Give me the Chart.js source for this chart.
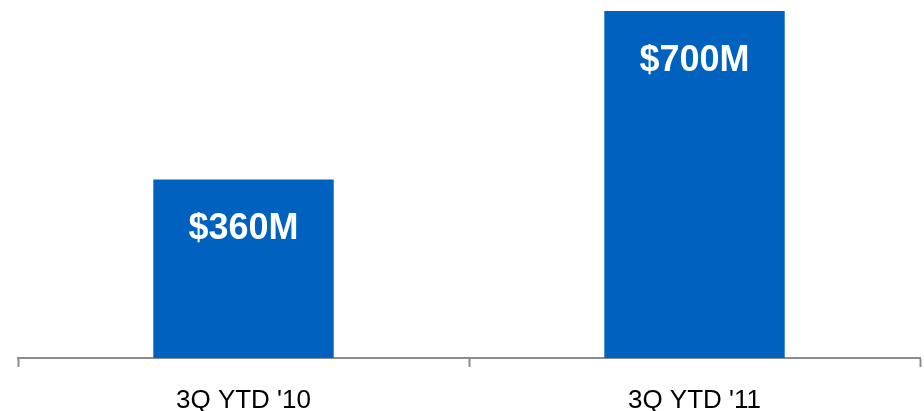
<!DOCTYPE html>
<html>
<head>
<meta charset="utf-8">
<script src="https://cdn.jsdelivr.net/npm/chart.js@4"></script>
<style>
  body { margin: 0; background: #fff; }
</style>
</head>
<body>
<canvas id="revenueChart" width="924" height="411"></canvas>
<script>
// Values in $M
const periods = ["3Q YTD '10", "3Q YTD '11"];
const revenue = [360, 700];
const valueLabels = ["$360M", "$700M"];

// White value text inside the top of each bar
const barLabels = {
  id: 'barLabels',
  afterDatasetsDraw(chart) {
    const ctx = chart.ctx;
    const meta = chart.getDatasetMeta(0);
    ctx.save();
    ctx.fillStyle = '#ffffff';
    ctx.font = 'bold 36px "Liberation Sans", Arial, sans-serif';
    ctx.textAlign = 'center';
    ctx.textBaseline = 'middle';
    meta.data.forEach((bar, i) => {
      ctx.fillText(valueLabels[i], bar.x, bar.y + 50);
    });
    ctx.restore();
  }
};

const ctx = document.getElementById('revenueChart').getContext('2d');
const chart = new Chart(ctx, {
  type: 'bar',
  data: {
    labels: periods,
    datasets: [{
      data: revenue,
      backgroundColor: '#0062be',
      categoryPercentage: 1,
      barPercentage: 0.4
    }]
  },
  options: {
    responsive: false,
    animation: false,
    layout: { padding: { left: 18, right: 4, top: 11, bottom: 0 } },
    plugins: {
      legend: { display: false },
      tooltip: { enabled: false }
    },
    scales: {
      x: {
        afterFit(scale) { scale.height = 53; },
        grid: {
          drawOnChartArea: false,
          drawTicks: true,
          tickLength: 9,
          tickWidth: 2,
          color: '#8c8c8c'
        },
        border: { display: true, color: '#8c8c8c', width: 2 },
        ticks: {
          color: '#000',
          padding: 21,
          font: { family: '"Liberation Sans", Arial, sans-serif', size: 26, lineHeight: 1 }
        }
      },
      y: {
        display: false,
        min: 0,
        max: 700
      }
    }
  },
  plugins: [barLabels]
});
</script>
</body>
</html>
